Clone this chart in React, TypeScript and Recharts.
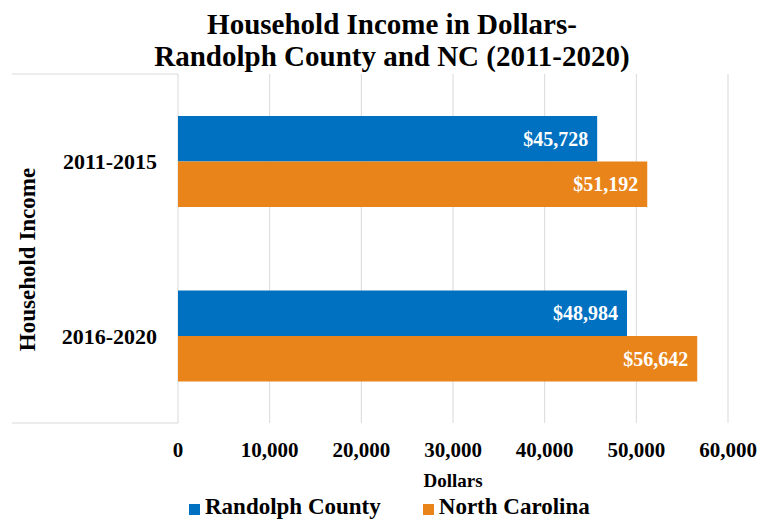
import React from 'react';
import {
  BarChart,
  Bar,
  XAxis,
  YAxis,
  CartesianGrid,
  Legend,
  LabelList,
} from 'recharts';

const periods = ['2011-2015', '2016-2020'];
const randolph = [45728, 48984];
const northCarolina = [51192, 56642];
const xTicks = [0, 10000, 20000, 30000, 40000, 50000, 60000];

const seriesNames = { randolph: 'Randolph County', nc: 'North Carolina' };
const BLUE = '#0070C0';
const ORANGE = '#E8841A';
const FONT = '"Liberation Serif", "Times New Roman", serif';

const data = periods.map((period, i) => ({
  period,
  randolph: randolph[i],
  nc: northCarolina[i],
}));

const money = (v: any) => `$${Number(v).toLocaleString('en-US')}`;

const LegendContent = () => (
  <div
    style={{
      height: 28,
      display: 'flex',
      alignItems: 'center',
      paddingLeft: 189,
      fontFamily: FONT,
      fontWeight: 700,
      fontSize: 23,
      lineHeight: '28px',
      color: '#000',
    }}
  >
    {[
      { name: seriesNames.randolph, color: BLUE },
      { name: seriesNames.nc, color: ORANGE },
    ].map((item) => (
      <div key={item.name} style={{ display: 'flex', alignItems: 'center', marginRight: 42 }}>
        <span style={{ width: 11, height: 11, background: item.color, marginRight: 5, marginTop: 4 }} />
        <span>{item.name}</span>
      </div>
    ))}
  </div>
);

export default function App() {
  return (
    <div style={{ position: 'absolute', left: 0, top: 0, width: 758, height: 521, background: '#fff' }}>
      <div
        style={{
          position: 'absolute',
          top: 8,
          left: 13,
          width: 758,
          textAlign: 'center',
          fontFamily: FONT,
          fontWeight: 700,
          fontSize: 29,
          lineHeight: '32px',
          color: '#000',
        }}
      >
        Household Income in Dollars-
        <br />
        Randolph County and NC (2011-2020)
      </div>
      <BarChart
        width={758}
        height={521}
        data={data}
        layout="vertical"
        margin={{ top: 74, right: 30, bottom: 0, left: 0 }}
        barGap={0}
        barSize={45.5}
      >
        <CartesianGrid horizontal={false} stroke="#D9D9D9" />
        <CartesianGrid
          vertical={false}
          x={12}
          width={166}
          stroke="#D9D9D9"
          horizontalCoordinatesGenerator={({ offset }: any) => [offset.top, offset.top + offset.height]}
        />
        <XAxis
          type="number"
          domain={[0, 60000]}
          ticks={xTicks}
          tickFormatter={(v: number) => v.toLocaleString('en-US')}
          axisLine={false}
          tickLine={false}
          tickSize={0}
          tickMargin={19}
          height={70}
          tick={{ fill: '#000', fontSize: 21, fontWeight: 700, fontFamily: FONT }}
          label={{
            content: ({ viewBox }: any) => (
              <text
                x={viewBox.x + viewBox.width / 2}
                y={487}
                textAnchor="middle"
                fill="#000"
                fontSize={19}
                fontWeight={700}
                fontFamily={FONT}
              >
                Dollars
              </text>
            ),
          }}
        />
        <YAxis
          type="category"
          dataKey="period"
          width={178}
          axisLine={false}
          tickLine={false}
          tickSize={0}
          tickMargin={21}
          tick={{ fill: '#000', fontSize: 22, fontWeight: 700, fontFamily: FONT }}
          label={{
            content: ({ viewBox }: any) => {
              const cy = viewBox.y + viewBox.height / 2 + 11;
              return (
                <text
                  x={35}
                  y={cy}
                  transform={`rotate(-90, 35, ${cy})`}
                  textAnchor="middle"
                  fill="#000"
                  fontSize={23}
                  fontWeight={700}
                  fontFamily={FONT}
                >
                  Household Income
                </text>
              );
            },
          }}
        />
        <Legend verticalAlign="bottom" content={<LegendContent />} />
        <Bar dataKey="randolph" name={seriesNames.randolph} fill={BLUE} isAnimationActive={false}>
          <LabelList
            dataKey="randolph"
            position="insideRight"
            offset={9}
            formatter={money}
            fill="#fff"
            fontSize={20}
            fontWeight={700}
            fontFamily={FONT}
          />
        </Bar>
        <Bar dataKey="nc" name={seriesNames.nc} fill={ORANGE} isAnimationActive={false}>
          <LabelList
            dataKey="nc"
            position="insideRight"
            offset={9}
            formatter={money}
            fill="#fff"
            fontSize={20}
            fontWeight={700}
            fontFamily={FONT}
          />
        </Bar>
      </BarChart>
    </div>
  );
}
